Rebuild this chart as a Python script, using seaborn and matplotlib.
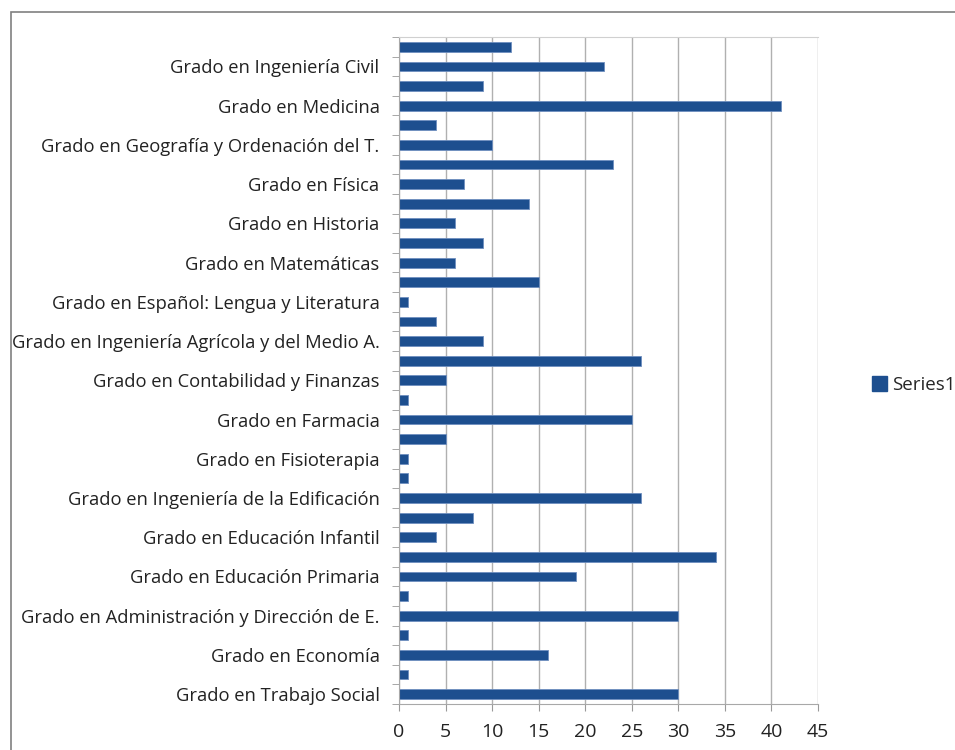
import matplotlib
matplotlib.use("Agg")
import matplotlib.pyplot as plt
from matplotlib.patches import Rectangle, Patch
import pandas as pd
import seaborn as sns

# categories top to bottom (only every other label is shown in the chart)
etiquetas = [
    "", "Grado en Ingeniería Civil",
    "", "Grado en Medicina",
    "", "Grado en Geografía y Ordenación del T.",
    "", "Grado en Física",
    "", "Grado en Historia",
    "", "Grado en Matemáticas",
    "", "Grado en Español: Lengua y Literatura",
    "", "Grado en Ingeniería Agrícola y del Medio A.",
    "", "Grado en Contabilidad y Finanzas",
    "", "Grado en Farmacia",
    "", "Grado en Fisioterapia",
    "", "Grado en Ingeniería de la Edificación",
    "", "Grado en Educación Infantil",
    "", "Grado en Educación Primaria",
    "", "Grado en Administración y Dirección de E.",
    "", "Grado en Economía",
    "", "Grado en Trabajo Social",
]

valores = [
    12, 22, 9, 41, 4, 10, 23, 7, 14, 6, 9, 6, 15, 1, 4, 9, 26,
    5, 1, 25, 5, 1, 1, 26, 8, 4, 34, 19, 1, 30, 1, 16, 1, 30,
]

x_ticks = [0, 5, 10, 15, 20, 25, 30, 35, 40, 45]

color_barra = "#1d4f8f"

df = pd.DataFrame({
    "categoria": [f"c{i}" for i in range(len(valores))],
    "valor": valores,
})

sns.set_style("white")
plt.rcParams["font.family"] = ["Open Sans", "DejaVu Sans"]

fig = plt.figure(figsize=(9.55, 7.5), dpi=100)
ax = fig.add_axes([399 / 955, 1 - 704 / 750, (818 - 399) / 955, (704 - 37) / 750])

sns.barplot(
    data=df,
    x="valor",
    y="categoria",
    orient="h",
    color=color_barra,
    width=0.5,
    edgecolor="#6f8fbf",
    linewidth=0.6,
    saturation=1,
    ax=ax,
)

ax.set_xlim(0, 45)
ax.set_ylim(len(valores) - 0.5, -0.5)
ax.set_xticks(x_ticks)
ax.set_xticklabels([str(t) for t in x_ticks], fontsize=14, color="#222222")
ax.set_yticks(range(len(valores)))
ax.set_yticklabels(etiquetas, fontsize=13.2, color="#222222")
ax.tick_params(axis="y", length=0, pad=14)
ax.tick_params(axis="x", length=5, color="#999999", pad=9, direction="out")

# category boundary ticks like Excel
ax.set_yticks([i + 0.5 for i in range(-1, len(valores))], minor=True)
ax.tick_params(axis="y", which="minor", length=5, color="#999999", direction="out", left=True)
ax.tick_params(axis="x", bottom=True)

ax.set_xlabel("")
ax.set_ylabel("")
ax.xaxis.grid(True, color="#b0b0b0", linewidth=1)
ax.yaxis.grid(False)
ax.set_axisbelow(True)

for side in ["left", "bottom", "top"]:
    ax.spines[side].set_visible(True)
    ax.spines[side].set_color("#a8a8a8")
ax.spines["top"].set_color("#d0d0d0")
ax.spines["right"].set_visible(False)

# outer chart border
fig.patches.append(Rectangle(
    (11 / 955, -0.1), 1.2, 1 - 12 / 750 + 0.1,
    transform=fig.transFigure, fill=False, edgecolor="#808080", linewidth=1.2,
))

fig.legend(
    handles=[Patch(facecolor=color_barra, edgecolor=color_barra, label="Series1")],
    loc="center left",
    bbox_to_anchor=(855 / 955, 1 - 385 / 750),
    frameon=False,
    fontsize=13.5,
    handlelength=0.8,
    handleheight=0.8,
    handletextpad=0.3,
)

fig.savefig("out.png", dpi=100)
